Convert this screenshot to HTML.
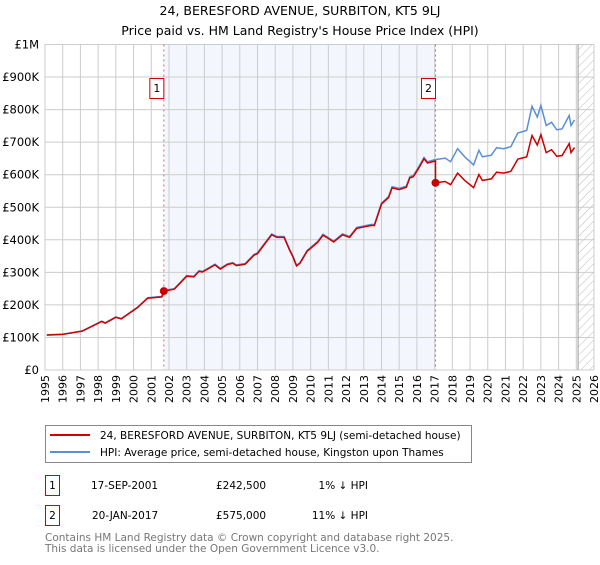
<!DOCTYPE html>
<html><head><meta charset="utf-8"><style>
body{margin:0;background:#fff;width:600px;height:560px;overflow:hidden;font-family:"Liberation Sans","DejaVu Sans",sans-serif}
svg text{font-family:"DejaVu Sans","Liberation Sans",sans-serif}
</style></head><body>
<svg id="chart" width="600" height="560" xmlns="http://www.w3.org/2000/svg">
<defs><pattern id="hatch" width="6" height="6" patternUnits="userSpaceOnUse" patternTransform="rotate(45)"><line x1="0" y1="0" x2="0" y2="6" stroke="#bbb" stroke-width="1"/></pattern></defs>
<text x="300" y="15" text-anchor="middle" font-size="12.5" fill="#000">24, BERESFORD AVENUE, SURBITON, KT5 9LJ</text>
<text x="300" y="35" text-anchor="middle" font-size="12.5" fill="#000">Price paid vs. HM Land Registry's House Price Index (HPI)</text>
<g id="grid"></g><g id="marks"></g><g id="axes"></g>
<g>
<rect x="45.5" y="425.5" width="426" height="37" fill="#fff" stroke="#888"/>
<line x1="50" y1="435" x2="90" y2="435" stroke="#cc0000" stroke-width="2"/>
<text x="100" y="439" font-size="10.5">24, BERESFORD AVENUE, SURBITON, KT5 9LJ (semi-detached house)</text>
<line x1="50" y1="452" x2="90" y2="452" stroke="#5b8fd4" stroke-width="2"/>
<text x="100" y="456" font-size="10.5">HPI: Average price, semi-detached house, Kingston upon Thames</text>
</g>
<g>
<rect x="45.5" y="475.5" width="14" height="20" fill="none" stroke="#cc0000"/>
<text x="52.5" y="489" text-anchor="middle" font-size="10.5">1</text>
<text x="91" y="489" font-size="10.5">17-SEP-2001</text>
<text x="216" y="489" font-size="10.5">£242,500</text>
<text x="368" y="489" text-anchor="end" font-size="10.5">1% ↓ HPI</text>
</g>
<g>
<rect x="45.5" y="505.5" width="14" height="20" fill="none" stroke="#cc0000"/>
<text x="52.5" y="519" text-anchor="middle" font-size="10.5">2</text>
<text x="92" y="519" font-size="10.5">20-JAN-2017</text>
<text x="216" y="519" font-size="10.5">£575,000</text>
<text x="368" y="519" text-anchor="end" font-size="10.5">11% ↓ HPI</text>
</g>
<text x="45" y="541" font-size="10.5" fill="#777">Contains HM Land Registry data © Crown copyright and database right 2025.</text>
<text x="45" y="552" font-size="10.5" fill="#777">This data is licensed under the Open Government Licence v3.0.</text>
</svg>
<script>
const hpiYears=[1995.1,1996.0,1997.1,1998.2,1998.4,1999.0,1999.3,2000.2,2000.8,2001.6,2001.7,2002.3,2003.0,2003.4,2003.7,2003.9,2004.6,2004.9,2005.3,2005.6,2005.8,2006.3,2006.8,2007.0,2007.3,2007.8,2008.1,2008.5,2008.8,2009.0,2009.2,2009.4,2009.8,2010.4,2010.7,2010.9,2011.3,2011.8,2012.2,2012.6,2013.4,2013.6,2014.0,2014.4,2014.6,2015.0,2015.4,2015.6,2015.8,2016.1,2016.4,2016.6,2016.8,2017.0,2017.6,2017.9,2018.3,2018.7,2019.2,2019.5,2019.7,2020.2,2020.5,2020.9,2021.3,2021.7,2022.2,2022.5,2022.8,2023.0,2023.3,2023.6,2023.9,2024.2,2024.6,2024.7,2024.9];
const hpiValues=[108,110,120,150,145,163,158,192,222,226,244,250,290,288,305,303,325,312,326,330,323,327,355,360,382,418,410,410,372,350,322,330,367,395,417,410,396,418,410,438,447,447,513,533,563,558,565,594,598,624,653,640,643,646,651,640,680,655,630,675,655,660,683,680,686,728,736,810,777,813,751,761,738,741,782,751,768];
const saleYears=[2001.71,2017.05];
const salePrices=[242.5,575];
const saleLabels=["1","2"];
const yTicks=[0,100,200,300,400,500,600,700,800,900,1000];
const yTickLabels=["£0","£100K","£200K","£300K","£400K","£500K","£600K","£700K","£800K","£900K","£1M"];
const xTicks=[1995,1996,1997,1998,1999,2000,2001,2002,2003,2004,2005,2006,2007,2008,2009,2010,2011,2012,2013,2014,2015,2016,2017,2018,2019,2020,2021,2022,2023,2024,2025,2026];
const X0=45,X1=594,Y0=370,Y1=44.5,XMIN=1995,XMAX=2026,YMAX=1000,HATCH=2025.1;
const xs=v=>X0+(v-XMIN)/(XMAX-XMIN)*(X1-X0);
const ys=v=>Y0-v/YMAX*(Y0-Y1);
const NS="http://www.w3.org/2000/svg";
function mk(tag,parent){const e=document.createElementNS(NS,tag);(typeof parent==='string'?document.getElementById(parent):parent).appendChild(e);return e;}
function hpiAt(t){for(let i=1;i<hpiYears.length;i++){if(t<=hpiYears[i]){const a=hpiYears[i-1],b=hpiYears[i];return hpiValues[i-1]+(hpiValues[i]-hpiValues[i-1])*(t-a)/(b-a);}}return hpiValues[hpiValues.length-1];}
let r=mk('rect','grid');


r.setAttribute('x',xs(saleYears[0]));r.setAttribute('y',Y1);r.setAttribute('width',xs(saleYears[1])-xs(saleYears[0]));r.setAttribute('height',Y0-Y1);r.setAttribute('fill','#eef3fc');r.setAttribute('opacity','0.7');
let h=mk('rect','grid');


h.setAttribute('x',xs(HATCH));h.setAttribute('y',Y1);h.setAttribute('width',X1-xs(HATCH));h.setAttribute('height',Y0-Y1);h.setAttribute('fill','url(#hatch)');
xTicks.forEach(t=>{const l=mk('line','grid');


l.setAttribute('x1',xs(t));l.setAttribute('x2',xs(t));l.setAttribute('y1',Y1);l.setAttribute('y2',Y0);l.setAttribute('stroke','#cccccc');
const g=mk('g','axes');
g.setAttribute('transform','translate('+(xs(t)+4)+','+(Y0+5)+') rotate(-90)');
const tx=mk('text',g);


tx.setAttribute('x','0');tx.setAttribute('y','0');
tx.setAttribute('font-size','11');tx.setAttribute('text-anchor','end');tx.textContent=t;});
yTicks.forEach((t,i)=>{const l=mk('line','grid');


l.setAttribute('x1',X0);l.setAttribute('x2',X1);l.setAttribute('y1',ys(t));l.setAttribute('y2',ys(t));l.setAttribute('stroke','#cccccc');
const tx=mk('text','axes');


tx.setAttribute('font-size','11.5');tx.setAttribute('text-anchor','end');tx.setAttribute('x',X0-6);tx.setAttribute('y',ys(t)+4);tx.textContent=yTickLabels[i];});
let hl=mk('line','grid');


hl.setAttribute('x1',xs(HATCH));hl.setAttribute('x2',xs(HATCH));hl.setAttribute('y1',Y1);hl.setAttribute('y2',Y0);hl.setAttribute('stroke','#999');
saleYears.forEach((s,i)=>{const l=mk('line','marks');


l.setAttribute('x1',xs(s));l.setAttribute('x2',xs(s));l.setAttribute('y1',Y1);l.setAttribute('y2',Y0);l.setAttribute('stroke','#e06666');l.setAttribute('stroke-dasharray','2,3');
const b=mk('rect','marks');


b.setAttribute('x',xs(s)-14);b.setAttribute('y',78.5);b.setAttribute('width',14);b.setAttribute('height',20);b.setAttribute('fill','#fff');b.setAttribute('stroke','#cc0000');
const tx=mk('text','marks');


tx.setAttribute('x',xs(s)-7);tx.setAttribute('y',92);tx.setAttribute('font-size','11');tx.setAttribute('text-anchor','middle');tx.textContent=saleLabels[i];});
let hp=mk('path','marks');


hp.setAttribute('d',hpiYears.map((t,i)=>(i?'L':'M')+xs(t).toFixed(1)+','+ys(hpiValues[i]).toFixed(1)).join(''));
hp.setAttribute('fill','none');hp.setAttribute('stroke','#5b8fd4');hp.setAttribute('stroke-width','1.5');
const r1=salePrices[0]/hpiAt(saleYears[0]),r2=salePrices[1]/hpiAt(saleYears[1]);
let pts=[];
hpiYears.forEach((t,i)=>{if(t<saleYears[1])pts.push([t,hpiValues[i]*r1]);});
pts.push([saleYears[1],hpiAt(saleYears[1])*r1]);pts.push([saleYears[1],salePrices[1]]);
hpiYears.forEach((t,i)=>{if(t>saleYears[1])pts.push([t,hpiValues[i]*r2]);});
let pp=mk('path','marks');


pp.setAttribute('d',pts.map((p,i)=>(i?'L':'M')+xs(p[0]).toFixed(1)+','+ys(p[1]).toFixed(1)).join(''));
pp.setAttribute('fill','none');pp.setAttribute('stroke','#cc0000');pp.setAttribute('stroke-width','1.5');
saleYears.forEach((s,i)=>{const c=mk('circle','marks');


c.setAttribute('cx',xs(s));c.setAttribute('cy',ys(salePrices[i]));c.setAttribute('r',4);c.setAttribute('fill','#cc0000');});
</script>
</body></html>
